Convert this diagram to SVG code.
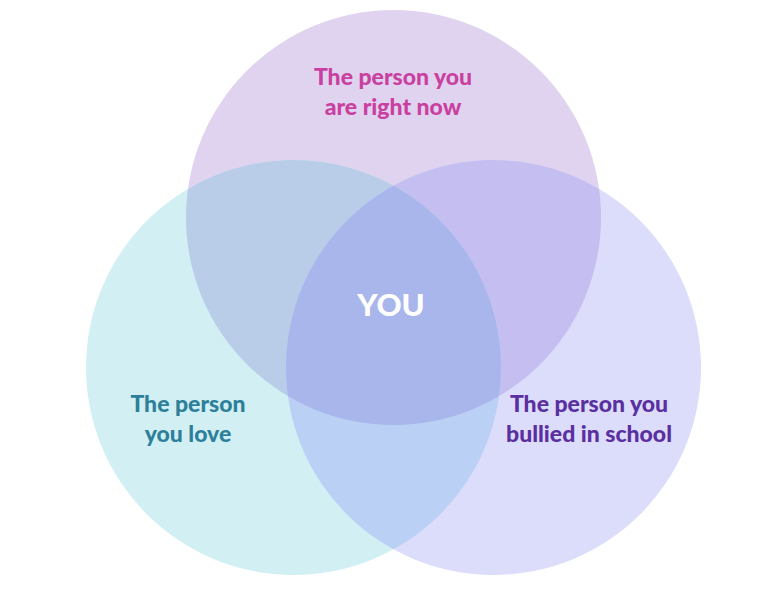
<svg xmlns="http://www.w3.org/2000/svg" width="783" height="599" viewBox="0 0 783 599">
<style>
.lbl{font-family:Lato,"Open Sans","Liberation Sans",sans-serif;font-weight:900;font-size:23px;text-anchor:middle}
</style>
<defs>
<clipPath id="cA"><circle cx="393.5" cy="217.5" r="207.5"/></clipPath>
<clipPath id="cB"><circle cx="293.5" cy="367.5" r="207.5"/></clipPath>
<clipPath id="cC"><circle cx="493.5" cy="367.5" r="207.5"/></clipPath>
</defs>
<rect width="783" height="599" fill="#ffffff"/>
<g id="top-circle"><circle cx="393.5" cy="217.5" r="207.5" fill="#e0d3ef"/></g>
<g id="left-circle"><circle cx="293.5" cy="367.5" r="207.5" fill="#d2f0f4"/></g>
<g id="right-circle"><circle cx="493.5" cy="367.5" r="207.5" fill="#dcdcfb"/></g>
<g id="overlaps">
<g clip-path="url(#cA)"><circle cx="293.5" cy="367.5" r="207.5" fill="#b9cce8"/></g>
<g clip-path="url(#cA)"><circle cx="493.5" cy="367.5" r="207.5" fill="#c4bff0"/></g>
<g clip-path="url(#cB)"><circle cx="493.5" cy="367.5" r="207.5" fill="#bbd0f5"/></g>
<g clip-path="url(#cA)"><g clip-path="url(#cB)"><circle cx="493.5" cy="367.5" r="207.5" fill="#a8b6ec"/></g></g>
</g>
<g id="label-top"><text class="lbl" x="393" y="85" fill="#c940a0">The person you</text><text class="lbl" x="393" y="115" fill="#c940a0">are right now</text></g>
<g id="label-left"><text class="lbl" x="188" y="412" fill="#2e7f99">The person</text><text class="lbl" x="188" y="442" fill="#2e7f99">you love</text></g>
<g id="label-right"><text class="lbl" x="589" y="412" fill="#5a2fa0">The person you</text><text class="lbl" x="589" y="442" fill="#5a2fa0">bullied in school</text></g>
<g id="label-center"><text class="lbl" x="391" y="316" fill="#ffffff" style="font-size:31px">YOU</text></g>
</svg>
